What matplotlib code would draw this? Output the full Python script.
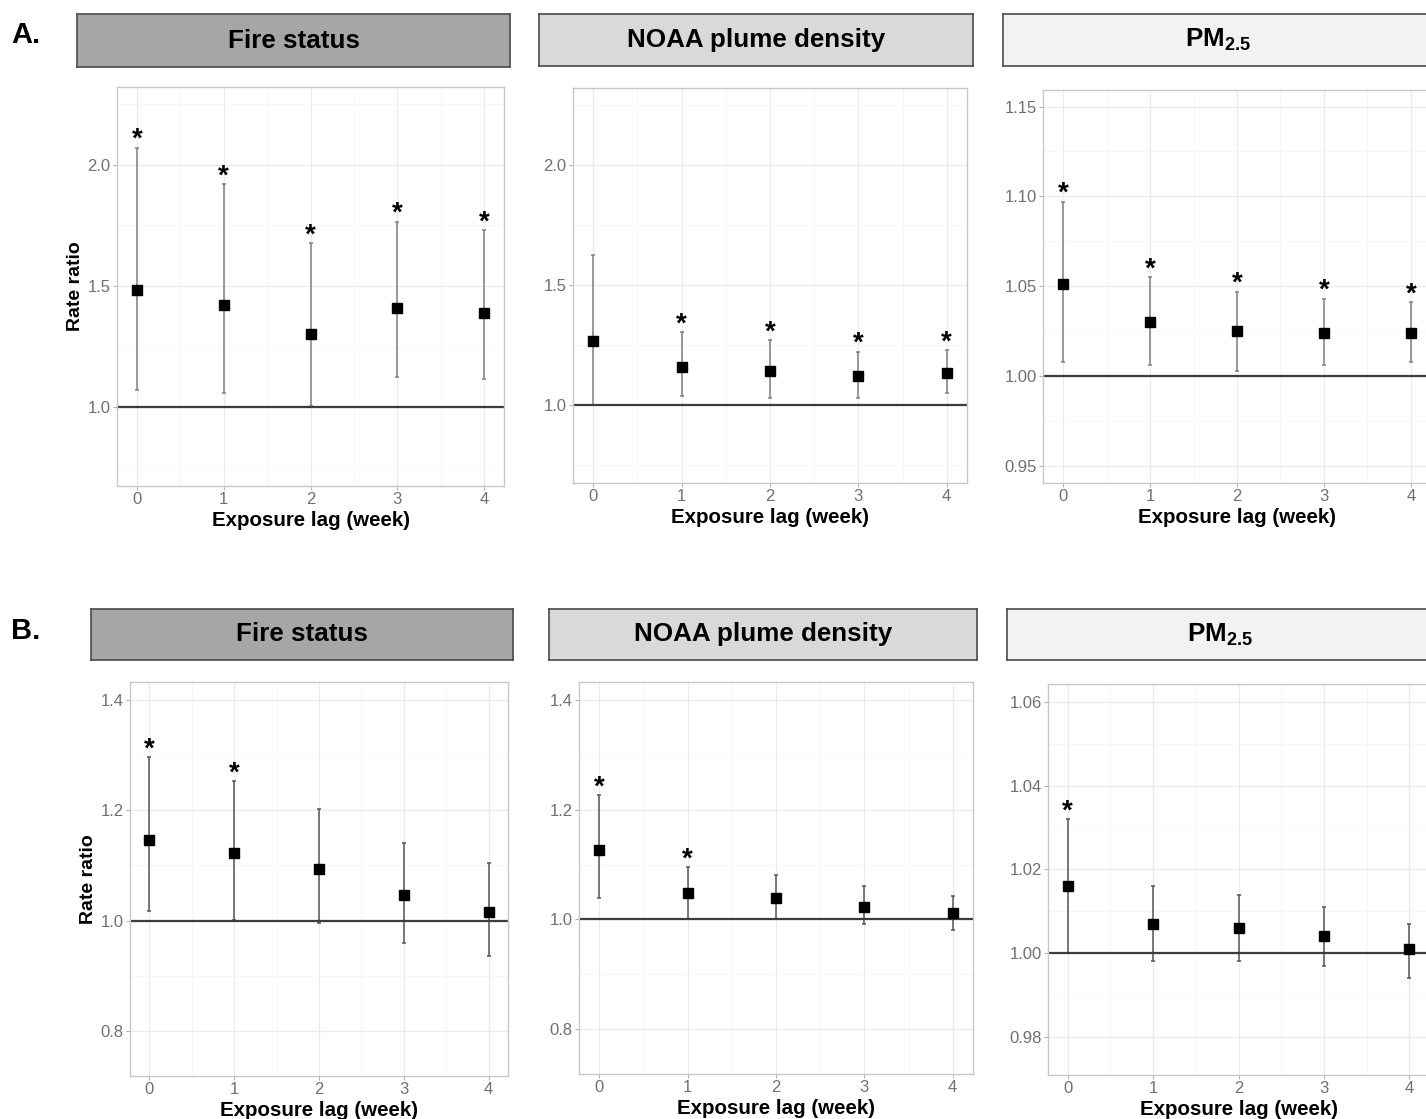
"""Rate ratio by exposure lag, two outcome rows (A, B) x three exposure metrics."""

import matplotlib

matplotlib.use("Agg")
import matplotlib.pyplot as plt
from matplotlib.ticker import FormatStrFormatter

plt.rcParams["font.family"] = ["Liberation Sans", "DejaVu Sans"]
plt.rcParams["mathtext.fontset"] = "custom"
plt.rcParams["mathtext.rm"] = "Liberation Sans"
plt.rcParams["mathtext.bf"] = "Liberation Sans:bold"

LAGS = [0, 1, 2, 3, 4]
TITLES = ["Fire status", "NOAA plume density", r"$\mathbf{PM}_{\mathbf{2.5}}$"]

# row A
A_FIRE_RR = [1.485, 1.423, 1.302, 1.409, 1.390]
A_FIRE_LO = [1.071, 1.057, 1.003, 1.125, 1.116]
A_FIRE_HI = [2.071, 1.922, 1.678, 1.766, 1.730]
A_FIRE_SIG = [True, True, True, True, True]

A_NOAA_RR = [1.270, 1.162, 1.144, 1.122, 1.134]
A_NOAA_LO = [1.000, 1.040, 1.030, 1.029, 1.050]
A_NOAA_HI = [1.626, 1.306, 1.273, 1.224, 1.230]
A_NOAA_SIG = [False, True, True, True, True]

A_PM_RR = [1.051, 1.030, 1.025, 1.024, 1.024]
A_PM_LO = [1.008, 1.006, 1.003, 1.006, 1.008]
A_PM_HI = [1.097, 1.055, 1.047, 1.043, 1.041]
A_PM_SIG = [True, True, True, True, True]

# row B
B_FIRE_RR = [1.147, 1.122, 1.094, 1.047, 1.016]
B_FIRE_LO = [1.017, 1.002, 0.995, 0.960, 0.935]
B_FIRE_HI = [1.297, 1.253, 1.202, 1.141, 1.105]
B_FIRE_SIG = [True, True, False, False, False]

B_NOAA_RR = [1.126, 1.048, 1.039, 1.023, 1.011]
B_NOAA_LO = [1.039, 1.000, 1.000, 0.991, 0.981]
B_NOAA_HI = [1.226, 1.095, 1.081, 1.060, 1.043]
B_NOAA_SIG = [True, True, False, False, False]

B_PM_RR = [1.016, 1.007, 1.006, 1.004, 1.001]
B_PM_LO = [1.000, 0.998, 0.998, 0.997, 0.994]
B_PM_HI = [1.032, 1.016, 1.014, 1.011, 1.007]
B_PM_SIG = [True, False, False, False, False]

# y ticks per panel
A_TICKS = [[1.0, 1.5, 2.0], [1.0, 1.5, 2.0], [0.95, 1.00, 1.05, 1.10, 1.15]]
B_TICKS = [[0.8, 1.0, 1.2, 1.4], [0.8, 1.0, 1.2, 1.4], [0.98, 1.00, 1.02, 1.04, 1.06]]

W, H = 1426, 1119
STRIP_FILLS = ["#a6a6a6", "#d9d9d9", "#f2f2f2"]

# pixel layout: (x0, x1, top, bottom)
A_STRIPS = [(77, 510, 14, 67), (539, 973, 14, 66), (1003, 1433, 14, 66)]
B_STRIPS = [(91, 513, 609, 660), (549, 977, 609, 660), (1007, 1433, 609, 660)]
A_PANELS = [(117, 504, 87, 486), (573, 967, 88, 483), (1043, 1431, 90, 483)]
B_PANELS = [(130, 508, 682, 1076), (579, 973, 682, 1074), (1048, 1429, 684, 1075)]
A_YLIM = [(0.674, 2.322), (0.677, 2.322), (0.9404, 1.1592)]
B_YLIM = [(0.718, 1.433), (0.718, 1.433), (0.9708, 1.0644)]


def rect(x0, x1, y0, y1):
    return [x0 / W, 1 - y1 / H, (x1 - x0) / W, (y1 - y0) / H]


def strip(fig, pos, fill, title):
    ax = fig.add_axes(rect(*pos))
    ax.set_facecolor(fill)
    ax.set_xticks([])
    ax.set_yticks([])
    for s in ax.spines.values():
        s.set_color("#4a4a4a")
        s.set_linewidth(1.2)
    ax.text(0.5, 0.5, title, transform=ax.transAxes, ha="center", va="center",
            fontsize=18.7, fontweight="bold", color="black")


def panel(fig, pos, rr, lo, hi, sig, ticks, ylim, fmt, ecolor, ylabel=False):
    ax = fig.add_axes(rect(*pos))
    yerr = [[r - l for r, l in zip(rr, lo)], [h - r for r, h in zip(rr, hi)]]
    ax.errorbar(LAGS, rr, yerr=yerr, fmt="none", ecolor=ecolor, elinewidth=1.1,
                capsize=1.6, capthick=1.1, zorder=2)
    ax.axhline(1.0, color="#3c3c3c", lw=1.6, zorder=2.5)
    ax.plot(LAGS, rr, "s", color="black", ms=7.3, zorder=3)
    for x, h, s in zip(LAGS, hi, sig):
        if s:
            ax.annotate("*", (x, h), xytext=(0, 0.5), textcoords="offset points",
                        ha="center", va="baseline", fontsize=20, fontweight="bold")

    ax.set_xlim(-0.23, 4.23)
    ax.set_xticks(LAGS)
    ax.set_xticks([0.5, 1.5, 2.5, 3.5], minor=True)
    step = ticks[1] - ticks[0]
    ax.set_yticks(ticks)
    ax.set_yticks([ticks[0] - step / 2] + [t + step / 2 for t in ticks], minor=True)
    ax.set_ylim(*ylim)
    ax.yaxis.set_major_formatter(FormatStrFormatter(fmt))

    ax.set_axisbelow(True)
    ax.grid(which="major", color="#ebebeb", lw=0.9)
    ax.grid(which="minor", color="#f5f5f5", lw=0.6)
    for s in ax.spines.values():
        s.set_color("#c8c8c8")
        s.set_linewidth(1.0)
    ax.tick_params(which="major", length=3, width=0.8, color="#b3b3b3",
                   labelcolor="#707070", labelsize=12, pad=1.5)
    ax.tick_params(which="minor", length=0)

    ax.set_xlabel("Exposure lag (week)", fontsize=14.8, fontweight="bold", labelpad=2.5)
    if ylabel:
        ax.set_ylabel("Rate ratio", fontsize=14, fontweight="bold", labelpad=2.5)
    return ax


def main() -> None:
    fig = plt.figure(figsize=(W / 100, H / 100), dpi=100)

    rows = [
        ("A.", 35, A_STRIPS, A_PANELS, A_YLIM, A_TICKS, "#808080",
         [(A_FIRE_RR, A_FIRE_LO, A_FIRE_HI, A_FIRE_SIG),
          (A_NOAA_RR, A_NOAA_LO, A_NOAA_HI, A_NOAA_SIG),
          (A_PM_RR, A_PM_LO, A_PM_HI, A_PM_SIG)]),
        ("B.", 631, B_STRIPS, B_PANELS, B_YLIM, B_TICKS, "#555555",
         [(B_FIRE_RR, B_FIRE_LO, B_FIRE_HI, B_FIRE_SIG),
          (B_NOAA_RR, B_NOAA_LO, B_NOAA_HI, B_NOAA_SIG),
          (B_PM_RR, B_PM_LO, B_PM_HI, B_PM_SIG)]),
    ]
    fmts = ["%.1f", "%.1f", "%.2f"]

    for label, ly, strips, panels, ylims, ticks, ecolor, series in rows:
        fig.text(11 / W, 1 - ly / H, label, fontsize=21, fontweight="bold", va="center")
        for i in range(3):
            strip(fig, strips[i], STRIP_FILLS[i], TITLES[i])
            rr, lo, hi, sig = series[i]
            panel(fig, panels[i], rr, lo, hi, sig, ticks[i], ylims[i], fmts[i],
                  ecolor, ylabel=(i == 0))

    fig.savefig("out.png", dpi=100)
    plt.close(fig)


if __name__ == "__main__":
    main()
